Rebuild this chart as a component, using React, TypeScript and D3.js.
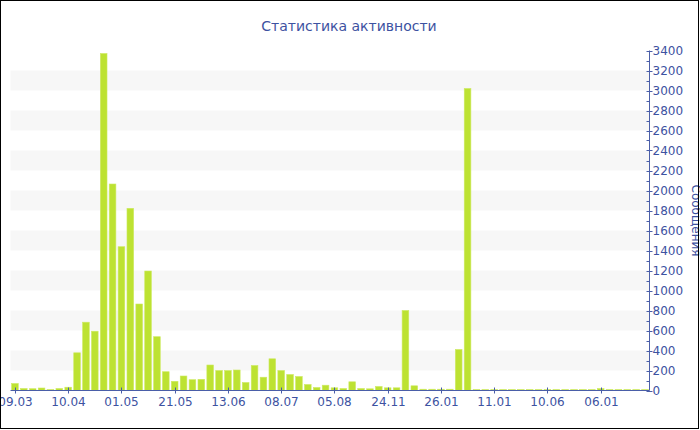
import React from "react";
import * as d3 from "d3";

const title = "Статистика активности";
const yTitle = "Сообщения";

// 72 weekly categories; only every 6th is labelled on the axis
const tickLabels = ["09.03", "10.04", "01.05", "21.05", "13.06", "08.07", "05.08", "24.11", "26.01", "11.01", "10.06", "06.01"];
const tickEvery = 6;

const messages = [
  70, 20, 18, 25, 10, 20, 33, 377, 683, 593,
  3370, 2065, 1438, 1822, 865, 1195, 538, 188, 92, 145,
  108, 112, 255, 200, 200, 205, 80, 250, 133, 317,
  200, 160, 140, 60, 30, 53, 27, 20, 87, 20,
  17, 40, 27, 27, 800, 47, 13, 13, 13, 13,
  410, 3020, 10, 10, 10, 10, 10, 10, 10, 10,
  10, 10, 10, 10, 10, 10, 20, 10, 10, 10,
  10, 10,
];

const yMax = 3400;
const yMajor = 200;
const yMinor = 100;

const W = 700;
const H = 430;
const FONT = "'DejaVu Sans', Verdana, sans-serif";
const TEXT = "#3d52a1";
const AXIS = "#4a5ea8";
const BAR = "#bde232";
const BAND = "#f7f7f7";

export default function App() {
  const left = 10.5;
  const right = 649.5;
  const top = 50.5;
  const bottom = 390.5;

  const idx = messages.map((_, i) => i);
  const x = d3.scaleBand<number>().domain(idx).range([left, right]).paddingInner(0.25).paddingOuter(0.125);
  const y = d3.scaleLinear().domain([0, yMax]).range([bottom, top]);

  const majors = d3.range(0, yMax + 1, yMajor);
  const minors = d3.range(yMinor, yMax, yMajor);
  const bands = d3.range(yMajor, yMax, yMajor * 2);

  return (
    <svg width={W} height={H} style={{ position: "absolute", left: 0, top: 0, display: "block" }}>
      <style>{"body{margin:0}"}</style>
      <rect x={0} y={0} width={W} height={H} fill="#fff" />
      {bands.map((b) => (
        <rect key={b} x={left} y={y(b + yMajor)} width={right - left} height={y(b) - y(b + yMajor)} fill={BAND} />
      ))}
      {messages.map((v, i) => (
        <rect key={i} x={x(i)} y={y(v)} width={x.bandwidth()} height={bottom - y(v)} fill={BAR} stroke="#cdea62" strokeWidth={0.6} />
      ))}
      {/* x axis */}
      <line x1={left} x2={right} y1={bottom} y2={bottom} stroke={AXIS} strokeWidth={1} />
      {tickLabels.map((t, k) => {
        const cx = Math.round((x(k * tickEvery) as number) + x.bandwidth() / 2) + 0.5;
        return (
          <g key={t + k}>
            <line x1={cx} x2={cx} y1={bottom - 3} y2={bottom + 3} stroke={AXIS} />
            <text x={cx} y={bottom + 15} textAnchor="middle" fontFamily={FONT} fontSize={12} fill={TEXT}>{t}</text>
          </g>
        );
      })}
      {/* y axis on right */}
      <line x1={right} x2={right} y1={top} y2={bottom} stroke={AXIS} />
      {majors.map((m) => (
        <g key={m}>
          <line x1={right - 3} x2={right + 3} y1={Math.round(y(m)) + 0.5} y2={Math.round(y(m)) + 0.5} stroke={AXIS} />
          <text x={right + 3} y={y(m)} dy="0.36em" fontFamily={FONT} fontSize={12} fill={TEXT}>{m}</text>
        </g>
      ))}
      {minors.map((m) => (
        <line key={m} x1={right - 3} x2={right} y1={Math.round(y(m)) + 0.5} y2={Math.round(y(m)) + 0.5} stroke={AXIS} />
      ))}
      <text transform={`translate(692,${(top + bottom) / 2}) rotate(90)`} textAnchor="middle" fontFamily={FONT} fontSize={12} fill={TEXT}>{yTitle}</text>
      <text x={W / 2 - 1} y={30.5} textAnchor="middle" fontFamily={FONT} fontSize={14} fill={TEXT}>{title}</text>
      <rect x={0.5} y={0.5} width={698} height={428} fill="none" stroke="#000" />
    </svg>
  );
}
